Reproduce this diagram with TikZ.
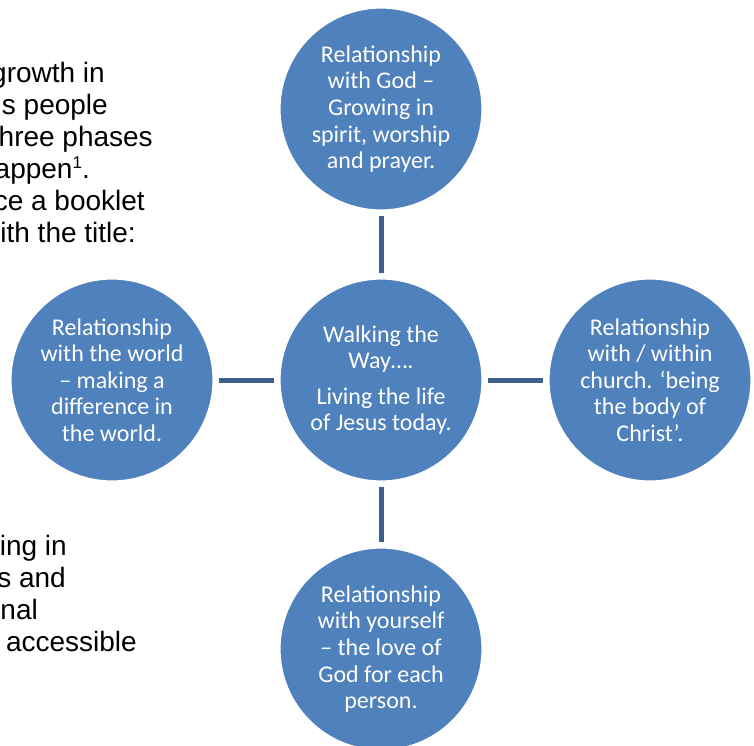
\documentclass[tikz,border=0pt]{standalone}
\usepackage{fontspec}
\setmainfont{Liberation Sans}
\newfontfamily\ringfont{Carlito}
\usetikzlibrary{positioning}
\definecolor{ringblue}{RGB}{79,129,189}
\definecolor{linkblue}{RGB}{60,96,140}

\begin{document}
\begin{tikzpicture}[x=1pt,y=-1pt,
  ring/.style={circle,fill=ringblue,draw=white,line width=1.2pt,minimum size=202pt,
    inner sep=0pt,text=white,align=center,font=\ringfont\fontsize{24}{26.6}\selectfont},
  link/.style={linkblue,line width=5pt,shorten >=5pt,shorten <=5pt},
  prose/.style={anchor=base east,inner sep=0pt,font=\fontsize{28}{32}\selectfont}]
\useasboundingbox (0,0) rectangle (754,745);
\clip (0,0) rectangle (754,745);
% page text behind the diagram
\node[prose] (t1) at (105,82) {growth in};
\node[prose] (t2) at (108,114) {s people};
\node[prose] (t3) at (153,146) {hree phases};
\node[prose] (t4) at (90,178) {appen\raisebox{10pt}{\fontsize{17}{17}\selectfont 1}.};
\node[prose] (t5) at (145,210) {ce a booklet};
\node[prose] (t6) at (136,242) {ith the title:};
\node[prose] (t7) at (67,555) {ing in};
\node[prose] (t8) at (66,587) {s and};
\node[prose] (t9) at (38,619) {nal};
\node[prose] (t10) at (137,651) {accessible};
% circles
\node[ring] (hub) at (381,380) {Walking the\\Way….\\[9pt]Living the life\\of Jesus today.};
\node[ring] (god) at (381,109) {Relationship\\with God –\\Growing in\\spirit, worship\\and prayer.};
\node[ring] (world) at (112,380) {Relationship\\with the world\\– making a\\difference in\\the world.};
\node[ring] (church) at (650,380) {Relationship\\with / within\\church. ‘being\\the body of\\Christ’.};
\node[ring] (self) at (381,649) {Relationship\\with yourself\\– the love of\\God for each\\person.};
% links
\draw[link] (hub) -- (god);
\draw[link] (hub) -- (world);
\draw[link] (hub) -- (church);
\draw[link] (hub) -- (self);
\end{tikzpicture}
\end{document}
